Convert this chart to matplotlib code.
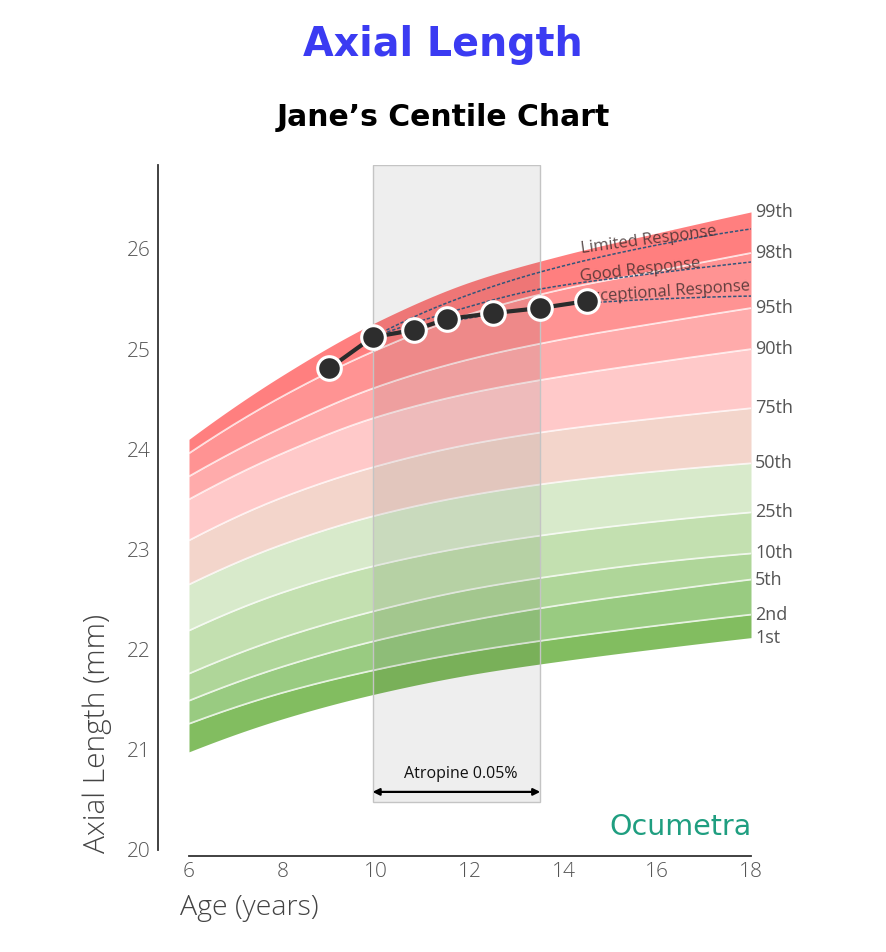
import matplotlib
matplotlib.use("Agg")
import matplotlib.pyplot as plt
from matplotlib.patches import Rectangle
import numpy as np

# ---------------- data ----------------
ages = [6, 8, 10, 12, 14, 16, 18]
centile_labels = ["99th", "98th", "95th", "90th", "75th", "50th", "25th", "10th", "5th", "2nd", "1st"]
c99 = [24.10, 24.74, 25.27, 25.67, 25.94, 26.16, 26.37]
c98 = [23.96, 24.53, 24.99, 25.35, 25.60, 25.78, 25.96]
c95 = [23.73, 24.22, 24.62, 24.90, 25.10, 25.26, 25.41]
c90 = [23.50, 23.96, 24.32, 24.56, 24.73, 24.87, 25.00]
c75 = [23.09, 23.52, 23.83, 24.05, 24.20, 24.31, 24.41]
c50 = [22.65, 23.05, 23.34, 23.54, 23.68, 23.78, 23.86]
c25 = [22.19, 22.57, 22.84, 23.03, 23.17, 23.28, 23.37]
c10 = [21.76, 22.12, 22.39, 22.60, 22.75, 22.87, 22.96]
c5 = [21.49, 21.83, 22.09, 22.29, 22.45, 22.58, 22.70]
c2 = [21.26, 21.57, 21.80, 21.98, 22.12, 22.24, 22.35]
c1 = [20.98, 21.31, 21.56, 21.75, 21.89, 22.01, 22.12]
curves = [c99, c98, c95, c90, c75, c50, c25, c10, c5, c2, c1]

band_colors = ["#ff7f7f", "#ff9393", "#ffabab", "#ffc9c9", "#f3d5cb",
               "#d8eacb", "#c3e0b0", "#afd699", "#99cb81", "#82bd60"]

patient_ages = [9.0, 9.92, 10.8, 11.5, 12.5, 13.5, 14.5]
patient_al = [24.81, 25.12, 25.19, 25.30, 25.36, 25.41, 25.48]

resp_ages = [9.92, 11.5, 13.5, 16, 18]
limited = [25.12, 25.46, 25.77, 26.04, 26.20]
good = [25.12, 25.36, 25.60, 25.76, 25.87]
exceptional = [25.12, 25.27, 25.42, 25.50, 25.53]
resp_names = ["Limited Response", "Good Response", "Exceptional Response"]

treat_start, treat_end = 9.92, 13.5
treat_label = "Atropine 0.05%"

xticks = [6, 8, 10, 12, 14, 16, 18]
yticks = [20, 21, 22, 23, 24, 25, 26]


def smooth(x, y, n=240):
    """Monotone cubic Hermite (PCHIP) curve through the given points, for drawing only."""
    x = np.asarray(x, float)
    y = np.asarray(y, float)
    h = np.diff(x)
    d = np.diff(y) / h
    m = np.zeros_like(y)
    for k in range(1, len(x) - 1):
        if d[k - 1] * d[k] > 0:
            w1 = 2 * h[k] + h[k - 1]
            w2 = h[k] + 2 * h[k - 1]
            m[k] = (w1 + w2) / (w1 / d[k - 1] + w2 / d[k])
    m[0] = ((2 * h[0] + h[1]) * d[0] - h[0] * d[1]) / (h[0] + h[1])
    if m[0] * d[0] <= 0:
        m[0] = 0
    m[-1] = ((2 * h[-1] + h[-2]) * d[-1] - h[-1] * d[-2]) / (h[-1] + h[-2])
    if m[-1] * d[-1] <= 0:
        m[-1] = 0
    xs = np.linspace(x[0], x[-1], n)
    idx = np.clip(np.searchsorted(x, xs) - 1, 0, len(x) - 2)
    t = (xs - x[idx]) / h[idx]
    h00 = 2 * t ** 3 - 3 * t ** 2 + 1
    h10 = t ** 3 - 2 * t ** 2 + t
    h01 = -2 * t ** 3 + 3 * t ** 2
    h11 = t ** 3 - t ** 2
    ys = h00 * y[idx] + h10 * h[idx] * m[idx] + h01 * y[idx + 1] + h11 * h[idx] * m[idx + 1]
    return xs, ys


# ---------------- style ----------------
FONT = ["Open Sans", "DejaVu Sans"]
TITLE_FONT = ["DejaVu Sans"]
plt.rcParams["font.family"] = FONT
GRAY = "#555555"

W, H = 886, 952
fig = plt.figure(figsize=(W / 100, H / 100), dpi=100)

ax_l = 189 / W
ax_w = (751 - 189) / W
ax_b = (H - 850) / H
ax_h = (850 - 165) / H
ax = fig.add_axes([ax_l, ax_b, ax_w, ax_h])
ymax = 20 + (850 - 165) / 100.17
ax.set_xlim(6, 18)
ax.set_ylim(20, ymax)

sm = [smooth(ages, c) for c in curves]
# bands
for i in range(len(curves) - 1):
    ax.fill_between(sm[i][0], sm[i + 1][1], sm[i][1], color=band_colors[i],
                    linewidth=0, zorder=1)
# white separators
for xs, ys in sm[1:-1]:
    ax.plot(xs, ys, color="white", lw=1.3, alpha=0.75, zorder=1.5,
            solid_capstyle="butt")

# treatment shaded region
ax.add_patch(Rectangle((treat_start, 20.48), treat_end - treat_start, ymax - 20.48,
                       facecolor="black", alpha=0.065, edgecolor="none", zorder=2))
ax.add_patch(Rectangle((treat_start, 20.48), treat_end - treat_start, ymax - 20.48,
                       facecolor="none", edgecolor="#c4c4c4", lw=1.0, zorder=2.1))
ax.annotate("", xy=(treat_end, 20.58), xytext=(treat_start, 20.58),
            arrowprops=dict(arrowstyle="<|-|>", lw=1.6, color="black",
                            mutation_scale=10, shrinkA=0, shrinkB=0), zorder=3)
ax.text((treat_start + treat_end) / 2 + 0.1, 20.755, treat_label, ha="center", va="center",
        fontsize=11.5, color="#111111", zorder=3)

# response lines
for vals in (limited, good, exceptional):
    xs, ys = smooth(resp_ages, vals)
    ax.plot(xs, ys, color="#34557a", lw=1.1, ls=(0, (2.2, 1.2)), zorder=3)
resp_pos = [(15.82, 26.085, 7.5), (15.63, 25.79, 6.5), (16.19, 25.57, 4.0)]
for name, (xa, ya, rot) in zip(resp_names, resp_pos):
    ax.text(xa, ya, name, ha="center", va="center", rotation=rot, fontsize=12,
            color="#3a2a2a", alpha=0.8, zorder=3.5)

# patient
ax.plot(patient_ages, patient_al, color="#2b2b2b", lw=3, zorder=4)
ax.plot(patient_ages, patient_al, "o", ms=17, mfc="#2d2d2d", mec="white", mew=2.2,
        zorder=5, ls="none")

# centile labels at right
for lab, c in zip(centile_labels, curves):
    ax.text(18.09, c[-1], lab, ha="left", va="center", fontsize=13, color=GRAY,
            clip_on=False)

# axes styling
for s in ["top", "right"]:
    ax.spines[s].set_visible(False)
ax.spines["left"].set_position(("outward", 31 * 0.72))
ax.spines["bottom"].set_position(("outward", 6 * 0.72))
ax.spines["left"].set_color("#333333")
ax.spines["bottom"].set_color("#333333")
ax.spines["left"].set_linewidth(1.3)
ax.spines["bottom"].set_linewidth(1.3)
ax.set_xticks(xticks)
ax.set_yticks(yticks)
ax.tick_params(length=0, labelsize=15, labelcolor=GRAY)
ax.tick_params(axis="y", pad=5)
ax.tick_params(axis="x", pad=4)
for lab in ax.get_xticklabels() + ax.get_yticklabels():
    lab.set_fontweight("light")

fig.text(249 / W, 1 - 908 / H, "Age (years)", ha="center", va="center",
         fontsize=20.5, color="#444444", fontweight="light")
fig.text(97 / W, 1 - 733 / H, "Axial Length (mm)", ha="center", va="center",
         rotation=90, fontsize=21.5, color="#444444", fontweight="light")

fig.text(443 / W, 1 - 45 / H, "Axial Length", ha="center", va="center",
         fontsize=28.5, color="#3b3bf2", fontweight="bold", family=TITLE_FONT)
fig.text(443 / W, 1 - 118 / H, "Jane\u2019s Centile Chart", ha="center", va="center",
         fontsize=21.5, color="black", fontweight="bold", family=TITLE_FONT)

fig.text(752 / W, 1 - 827 / H, "Ocumetra", ha="right", va="center",
         fontsize=20.5, color="#1f9e80", family=TITLE_FONT)

fig.savefig("out.png", dpi=100)
